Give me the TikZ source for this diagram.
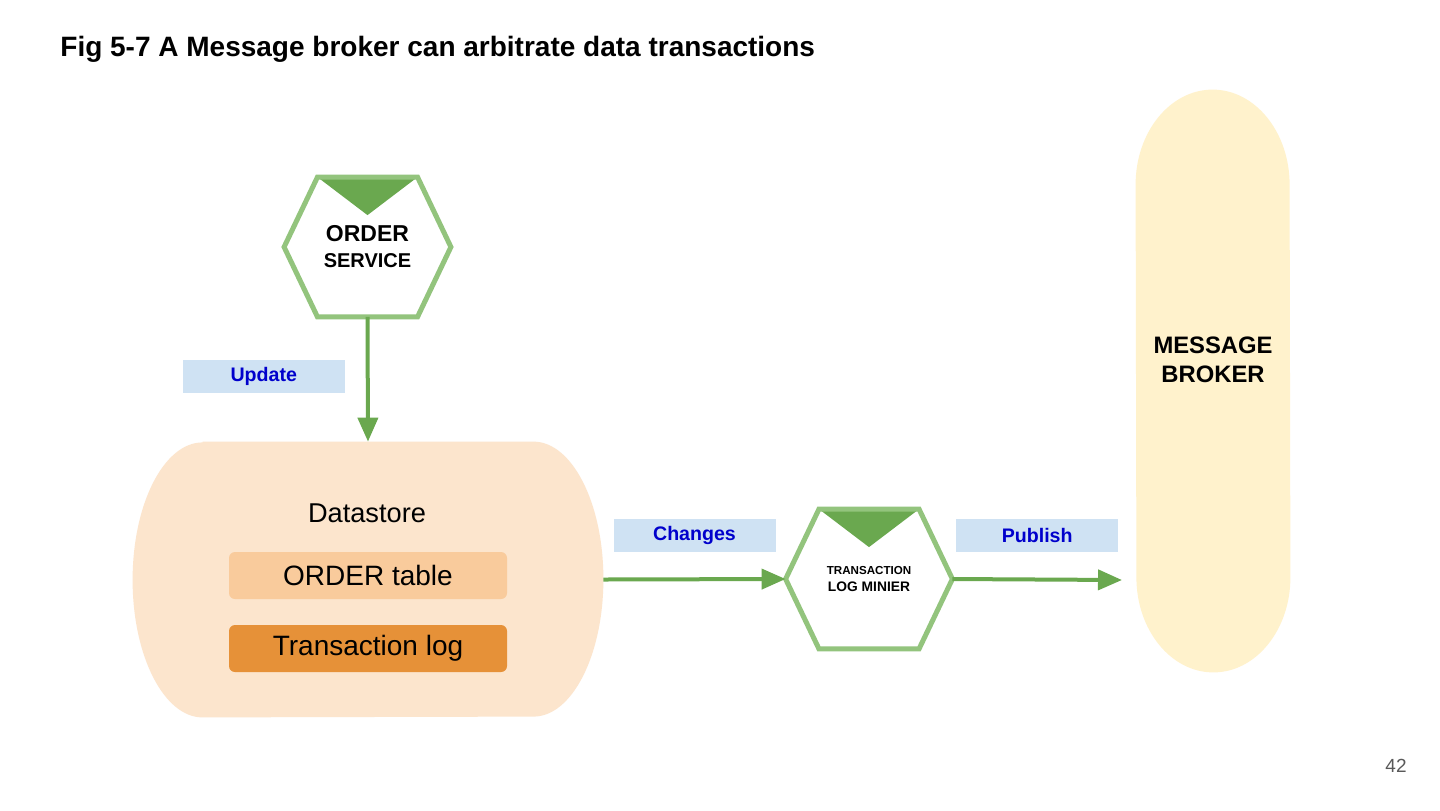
\documentclass[tikz,border=0pt]{standalone}
\usepackage{fontspec}
\setmainfont{Liberation Sans}
\usepackage{tikz}
\usetikzlibrary{calc,positioning,arrows.meta}
\definecolor{mbpeach}{HTML}{FCE5CD}
\definecolor{mbtable}{HTML}{F9CB9C}
\definecolor{mblog}  {HTML}{E69138}
\definecolor{mbcream}{HTML}{FFF2CC}
\definecolor{mbtag}  {HTML}{CFE2F3}
\definecolor{mbblue} {HTML}{0000CC}
\definecolor{mbleaf} {HTML}{93C47D}
\definecolor{mbgreen}{HTML}{6AA84F}
\definecolor{mbgrey} {HTML}{595959}

\begin{document}
\begin{tikzpicture}[x=0.5pt, y=-0.5pt,
    hexbox/.style={minimum width=83pt, minimum height=69.5pt, inner sep=0pt, align=center},
    tag/.style={fill=mbtag, text=mbblue, font=\bfseries\fontsize{9.8}{12}\selectfont,
                minimum width=81pt, minimum height=16.5pt, inner sep=0pt},
    flow/.style={draw=mbgreen, line width=2pt, -{Triangle[width=10pt,length=12pt]}},
    slot/.style={rounded corners=3pt, minimum width=139pt, minimum height=23.5pt,
                 inner sep=0pt, font=\fontsize{14}{16}\selectfont}]
      \fill[white] (0,0) rectangle (1440,810);
      \useasboundingbox (0,0) rectangle (1440,810);
      \node[anchor=base west, inner sep=0pt, font=\bfseries\fontsize{14}{17}\selectfont] (title) at (60,56.5)
        {Fig 5-7 A Message broker can arbitrate data transactions};
      % services
      \node[hexbox, font=\bfseries\fontsize{10}{13}\selectfont] (svc) at (367.5,247)
        {\fontsize{11.5}{13}\selectfont ORDER\\\fontsize{10}{13}\selectfont SERVICE};
      \node[hexbox, font=\bfseries\fontsize{6.9}{8.5}\selectfont] (tlm) at (869,579)
        {\fontsize{5.8}{8.5}\selectfont TRANSACTION\\\fontsize{6.9}{8.5}\selectfont LOG MINIER};
      \foreach \n in {svc,tlm} {
        \fill[mbgreen] ($(\n.north west)!.2!(\n.north east)$) -- ($(\n.north west)!.8!(\n.north east)$)
          -- ($(\n.north)+(0,38)$) -- cycle;
        \draw[mbleaf, line width=2.5pt] ($(\n.north west)!.2!(\n.north east)$)
          -- ($(\n.north west)!.8!(\n.north east)$) -- (\n.east)
          -- ($(\n.south west)!.8!(\n.south east)$) -- ($(\n.south west)!.2!(\n.south east)$)
          -- (\n.west) -- cycle;
      }
      % datastore
      \node[minimum width=235pt, minimum height=137.5pt, inner sep=0pt] (store) at (368,579.5) {};
      \fill[mbpeach] ($(store.north west)+(70,0)$) -- ($(store.north east)+(-70,0)$)
        arc[start angle=90, end angle=-90, x radius=35pt, y radius=68.75pt]
        -- ($(store.south west)+(70,0)$)
        arc[start angle=270, end angle=90, x radius=35pt, y radius=68.75pt] -- cycle;
      \node[font=\fontsize{13.6}{16}\selectfont] (storename) at (367,513) {Datastore};
      \node[slot, fill=mbtable] (ordertab) at (368,575.5) {ORDER table};
      \node[slot, fill=mblog] (txlog) at (368,648.5) {Transaction log};
      % broker
      \node[minimum width=77pt, minimum height=291pt, inner sep=0pt] (broker) at (1213,381) {};
      \fill[mbcream] ($(broker.north west)+(0,95)$)
        arc[start angle=180, end angle=0, x radius=38.5pt, y radius=47.5pt]
        -- ($(broker.south east)+(0,-95)$)
        arc[start angle=0, end angle=-180, x radius=38.5pt, y radius=47.5pt] -- cycle;
      \node[align=center, font=\bfseries\fontsize{11.9}{14.5}\selectfont] (brokername) at (1213,360)
        {MESSAGE\\BROKER};
      \coordinate (pubend) at (1122,580);
      % flows
      \draw[flow] (svc.south) -- (store.north)
        node[tag, midway, xshift=-52pt, yshift=1.4pt] {Update};
      \draw[flow] (store.east) -- (tlm.west) node[tag, midway, yshift=22pt] {Changes};
      \draw[flow] (tlm.east) -- (pubend) node[tag, midway, yshift=22pt] {Publish};
      \node[text=mbgrey, font=\fontsize{9.5}{11}\selectfont] (pageno) at (1396,766) {42};
    \end{tikzpicture}
\end{document}
